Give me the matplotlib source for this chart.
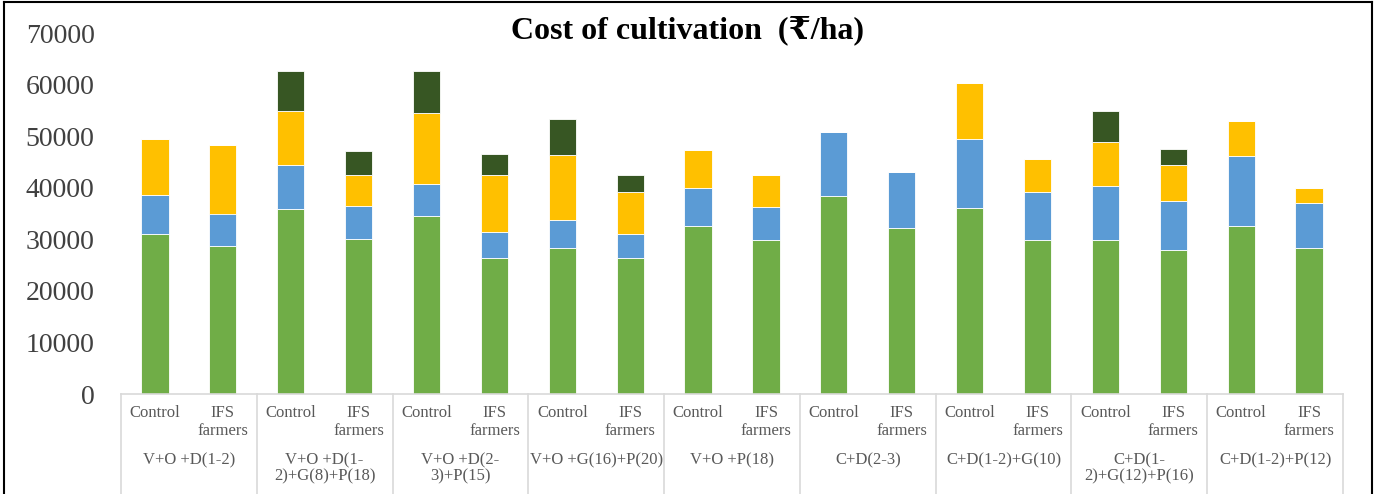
import matplotlib.pyplot as plt
from matplotlib.lines import Line2D
import numpy as np

groups = [
    "V+O +D(1-2)",
    "V+O +D(1-\n2)+G(8)+P(18)",
    "V+O +D(2-\n3)+P(15)",
    "V+O +G(16)+P(20)",
    "V+O +P(18)",
    "C+D(2-3)",
    "C+D(1-2)+G(10)",
    "C+D(1-\n2)+G(12)+P(16)",
    "C+D(1-2)+P(12)",
]
bar_labels = ["Control", "IFS\nfarmers"] * len(groups)

# stacked components (Rs/ha)
seg1 = [31100, 28700, 35800, 30000, 34600, 26400, 28400, 26400, 32600,
        29900, 38400, 32200, 36100, 29900, 29900, 28000, 32600, 28400]
seg2 = [7400, 6300, 8600, 6500, 6200, 5000, 5400, 4700, 7400,
        6300, 12500, 10900, 13300, 9300, 10500, 9400, 13600, 8600]
seg3 = [10900, 13200, 10500, 6000, 13700, 11000, 12500, 8100, 7400,
        6200, 0, 0, 11000, 6300, 8500, 7000, 6700, 3000]
seg4 = [0, 0, 7700, 4600, 8100, 4200, 7000, 3200, 0,
        0, 0, 0, 0, 0, 5900, 3200, 0, 0]

colors = ["#70AD47", "#5B9BD5", "#FFC000", "#375623"]
serif = ["Liberation Serif", "DejaVu Serif", "DejaVu Sans"]

fig = plt.figure(figsize=(13.75, 4.94), dpi=100)
ax = fig.add_axes([121 / 1375, 100 / 494, 1222 / 1375, 361 / 494])

x = np.arange(len(seg1))
bottom = np.zeros(len(x))
for vals, c in zip([seg1, seg2, seg3, seg4], colors):
    vals = np.array(vals, dtype=float)
    ax.bar(x, vals, width=0.4, bottom=bottom, color=c, edgecolor="white", linewidth=0.6)
    bottom += vals

ax.set_xlim(-0.5, len(x) - 0.5)
ax.set_ylim(0, 70000)
ax.set_yticks(np.arange(0, 70001, 10000))
ax.set_yticklabels([str(v) for v in range(0, 70001, 10000)],
                   fontfamily=serif, fontsize=20, color="#404040")
ax.tick_params(axis="y", length=0, pad=19)

ax.set_xticks(x)
ax.set_xticklabels(bar_labels, fontfamily=serif, fontsize=12, color="#595959",
                   linespacing=1.15)
ax.tick_params(axis="x", length=0, pad=8)

for s in ["top", "left", "right"]:
    ax.spines[s].set_visible(False)
ax.spines["bottom"].set_color("#d9d9d9")
ax.spines["bottom"].set_linewidth(1.2)

trans = ax.get_xaxis_transform()
for k in range(len(groups) + 1):
    xe = 2 * k - 0.5
    ax.plot([xe, xe], [0, -0.3], transform=trans, color="#d9d9d9",
            lw=1.2, clip_on=False)
for k, g in enumerate(groups):
    ax.annotate(g, xy=(2 * k + 0.5, 0), xycoords=trans, xytext=(0, -58),
                textcoords="offset pixels", ha="center", va="top",
                fontfamily=serif, fontsize=12, color="#595959",
                linespacing=1.05)

fig.text(0.5, 1 - 30 / 494, "Cost of cultivation  (\u20b9/ha)", ha="center",
         va="center", fontfamily=serif, fontsize=23, fontweight="bold",
         color="black")

# outer frame of the picture
for xs, ys in [([4, 1372], [492, 492]), ([4, 4], [0, 492]), ([1372, 1372], [0, 492])]:
    fig.add_artist(Line2D([v / 1375 for v in xs], [v / 494 for v in ys],
                          color="black", lw=1.5))

fig.savefig("out.png", dpi=100)
